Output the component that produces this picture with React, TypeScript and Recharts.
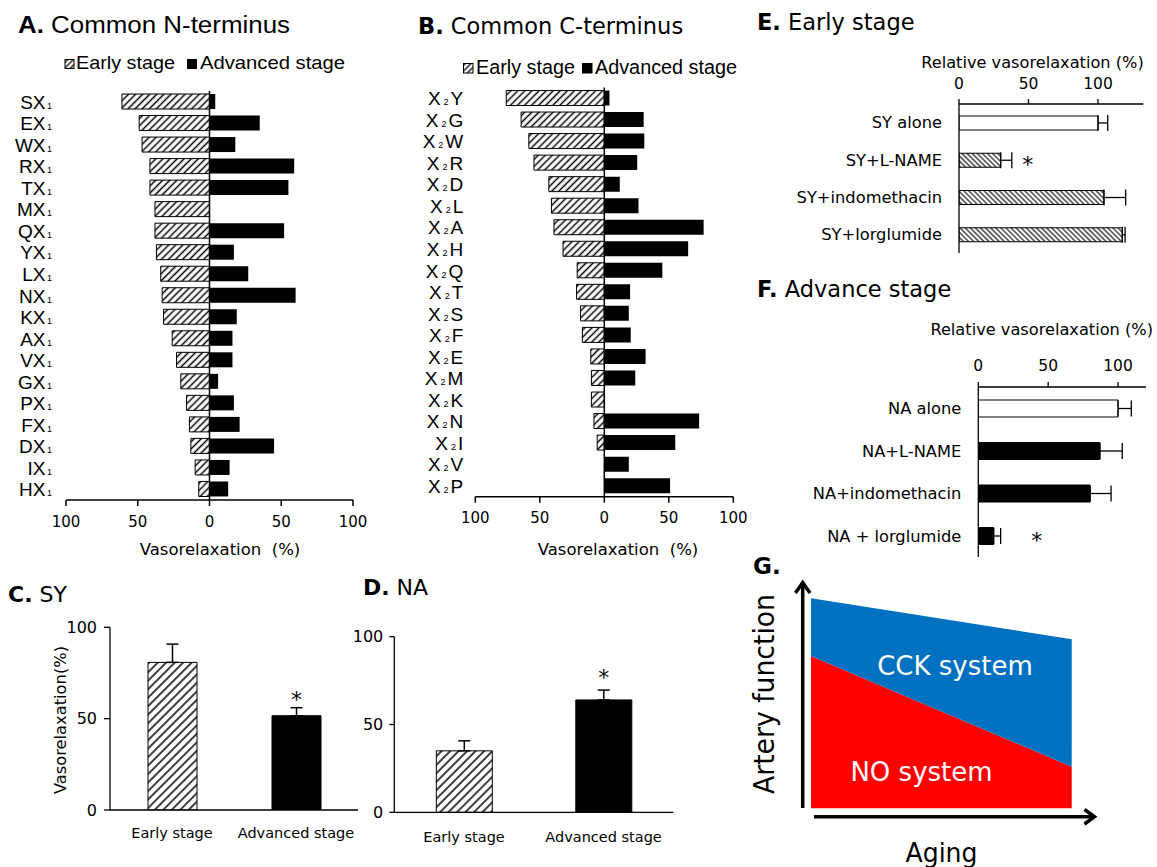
import React from 'react';
import { BarChart, Bar, XAxis, YAxis, ReferenceLine, ErrorBar, Cell, LabelList, AreaChart, Area } from 'recharts';

// ---------- Panel A: common N-terminus ----------
const nTermCategories = ['SX1', 'EX1', 'WX1', 'RX1', 'TX1', 'MX1', 'QX1', 'YX1', 'LX1', 'NX1', 'KX1', 'AX1', 'VX1', 'GX1', 'PX1', 'FX1', 'DX1', 'IX1', 'HX1'];
const nTermEarly = [61, 49, 47, 41.5, 41.5, 38, 38, 37, 34, 33, 32, 26, 23, 20, 16, 14, 13, 10, 7.5];
const nTermAdvanced = [4, 35, 18, 59, 55, 0, 52, 17, 27, 60, 19, 16, 16, 6, 17, 21, 45, 14, 13];

// ---------- Panel B: common C-terminus ----------
const cTermCategories = ['X2Y', 'X2G', 'X2W', 'X2R', 'X2D', 'X2L', 'X2A', 'X2H', 'X2Q', 'X2T', 'X2S', 'X2F', 'X2E', 'X2M', 'X2K', 'X2N', 'X2I', 'X2V', 'X2P'];
const cTermEarly = [76, 64.5, 58.5, 54.5, 43, 41, 39, 32, 21, 21.5, 18.5, 17, 10.5, 10, 10, 8, 5.5, 0, 0];
const cTermAdvanced = [4, 30.5, 31, 25.5, 12, 26.5, 77, 65, 45, 20, 19, 20.5, 32, 24, 0, 73.5, 55, 19, 51];
const divergingTicks = [-100, -50, 0, 50, 100];

// ---------- Panels C / D ----------
const stageCategories = ['Early stage', 'Advanced stage'];
const syValues = [80.8, 51.6];
const syErrors = [10, 4.4];
const sySignificant = [false, true];
const naValues = [35, 64];
const naErrors = [5.7, 5.6];
const naSignificant = [false, true];
const stageTicks = [0, 50, 100];

// ---------- Panels E / F ----------
const earlyTreatments = ['SY alone', 'SY+L-NAME', 'SY+indomethacin', 'SY+lorglumide'];
const earlyRelative = [100, 30, 104.3, 117.5];
const earlyRelErrors = [7, 8, 15.6, 2];
const earlySignificant = [false, true, false, false];
const advTreatments = ['NA alone', 'NA+L-NAME', 'NA+indomethacin', 'NA + lorglumide'];
const advRelative = [100, 87, 80, 11];
const advRelErrors = [9.5, 16, 15, 5];
const advSignificant = [false, false, false, true];
const relTicks = [0, 50, 100];

// ---------- Panel G ----------
const agingPoints = [0, 1];
const noSystem = [72.5, 19.8];
const cckSystem = [27.5, 60.7];

const SANS = "'DejaVu Sans', Verdana, sans-serif";
const ARIAL = "'Liberation Sans', Arial, sans-serif";

const NTick = (props: any) => {
  const { x, y, payload } = props;
  const s = String(payload.value);
  return (
    <text x={x} y={y + 7} textAnchor="end" fontFamily={ARIAL} fontSize={19} fill="#000">
      <tspan>{s.slice(0, -1)}</tspan>
      <tspan fontSize={9} dx={1.5}>{s.slice(-1)}</tspan>
    </text>
  );
};

const CTick = (props: any) => {
  const { x, y, payload } = props;
  const s = String(payload.value);
  return (
    <text x={x} y={y + 7} textAnchor="end" fontFamily={ARIAL} fontSize={19} fill="#000">
      <tspan>{s[0]}</tspan>
      <tspan fontSize={9} dx={3}>{s[1]}</tspan>
      <tspan dx={2}>{s.slice(2)}</tspan>
    </text>
  );
};

function Diverging(p: any) {
  const data = p.cats.map((c: string, i: number) => ({ cat: c, early: -p.early[i], adv: p.adv[i] }));
  return (
    <div style={{ position: 'absolute', left: p.left, top: 0 }}>
      <BarChart width={p.width} height={560} data={data} layout="vertical" margin={p.margin} stackOffset="sign" barSize={15}>
        <XAxis type="number" domain={[-100, 100]} ticks={divergingTicks} allowDataOverflow interval={0}
          tickFormatter={(v: number) => String(Math.abs(v))}
          axisLine={{ stroke: '#000', strokeWidth: 1.5 }} tickLine={{ stroke: '#000', strokeWidth: 1.5 }}
          tickSize={6} tickMargin={10} height={40}
          tick={{ fontSize: 15, fontFamily: SANS, fill: '#000' }} />
        <YAxis type="category" dataKey="cat" width={p.yWidth} axisLine={false} tickLine={false} tickSize={0}
          tickMargin={p.tickMargin} interval={0} tick={p.tick} />
        <Bar dataKey="early" stackId="s" fill="url(#hatchA)" stroke="#000" strokeWidth={1} isAnimationActive={false} />
        <Bar dataKey="adv" stackId="s" fill="#000" isAnimationActive={false} />
        <ReferenceLine x={0} stroke="#000" strokeWidth={1.5} />
      </BarChart>
    </div>
  );
}

function StageChart(p: any) {
  const data = stageCategories.map((s, i) => ({ stage: s, v: p.values[i], err: [0, p.errors[i]] }));
  const star = (lp: any) => {
    const { x, y, width, height, index } = lp;
    if (!p.sig[index]) return null;
    const perUnit = height / p.values[index];
    const top = y - p.errors[index] * perUnit;
    return (
      <text x={x + width / 2} y={top - p.starGap} textAnchor="middle" fontFamily={SANS} fontSize={22} fill="#000">*</text>
    );
  };
  return (
    <div style={{ position: 'absolute', left: p.left, top: 570 }}>
      <BarChart width={p.width} height={297} data={data} margin={p.margin} barSize={p.barSize}>
        <XAxis dataKey="stage" type="category" interval={0} axisLine={{ stroke: '#000', strokeWidth: 1.3 }}
          tickLine={false} tickSize={0} tickMargin={p.xTickMargin} height={40}
          tick={{ fontSize: 14.5, fontFamily: SANS, fill: '#000' }} />
        <YAxis type="number" domain={[0, 100]} ticks={stageTicks} allowDataOverflow width={50}
          axisLine={{ stroke: '#000', strokeWidth: 1.3 }} tickLine={{ stroke: '#000', strokeWidth: 1.3 }}
          tickSize={p.yTickSize} tickMargin={p.yTickMargin}
          tick={{ fontSize: 16, fontFamily: SANS, fill: '#000' }} />
        <Bar dataKey="v" stroke="#000" strokeWidth={1} isAnimationActive={false}>
          {data.map((d, i) => <Cell key={d.stage} fill={i === 0 ? 'url(#hatchC)' : '#000'} />)}
          <ErrorBar dataKey="err" width={6} stroke="#000" strokeWidth={1.5} direction="y" />
          <LabelList dataKey="v" content={star} />
        </Bar>
      </BarChart>
    </div>
  );
}

function RelativeChart(p: any) {
  const data = p.cats.map((c: string, i: number) => ({ treat: c, v: p.values[i], err: [0, p.errors[i]] }));
  const star = (lp: any) => {
    const { x, y, width, height, index } = lp;
    if (!p.sig[index]) return null;
    const perUnit = width / p.values[index];
    const end = x + width + p.errors[index] * perUnit;
    return (
      <text x={end + p.starGap} y={y + height / 2 + 12} textAnchor="middle" fontFamily={SANS} fontSize={22} fill="#000">*</text>
    );
  };
  return (
    <div style={{ position: 'absolute', left: 750, top: p.top }}>
      <BarChart width={407} height={p.height} data={data} layout="vertical" margin={p.margin} barSize={p.barSize}>
        <XAxis type="number" orientation="top" domain={[0, p.max]} ticks={relTicks} allowDataOverflow interval={0}
          axisLine={{ stroke: '#000', strokeWidth: 1.3 }} tickLine={{ stroke: '#000', strokeWidth: 1.3 }}
          tickSize={5} tickMargin={p.xTickMargin} height={30}
          tick={{ fontSize: 15.5, fontFamily: SANS, fill: '#000' }} />
        <YAxis type="category" dataKey="treat" width={200} interval={0}
          axisLine={{ stroke: '#000', strokeWidth: 1.3 }} tickLine={false} tickSize={0} tickMargin={17}
          tick={{ fontSize: 16.3, fontFamily: SANS, fill: '#000' }} />
        <Bar dataKey="v" stroke="#000" strokeWidth={1} isAnimationActive={false}>
          {data.map((d: any, i: number) => <Cell key={d.treat} fill={i === 0 ? '#fff' : p.fill} />)}
          <ErrorBar dataKey="err" width={8} stroke="#000" strokeWidth={1.3} direction="x" />
          <LabelList dataKey="v" content={star} />
        </Bar>
      </BarChart>
    </div>
  );
}

function AgingChart() {
  const data = agingPoints.map((t, i) => ({ t, no: noSystem[i], cck: cckSystem[i] }));
  return (
    <div style={{ position: 'absolute', left: 740, top: 560 }}>
      <AreaChart width={417} height={307} data={data} margin={{ top: 38.3, right: 85.3, bottom: 58.7, left: 71 }}>
        <XAxis type="number" dataKey="t" domain={[0, 1]} hide />
        <YAxis type="number" domain={[0, 100]} hide />
        <Area type="linear" dataKey="no" stackId="g" fill="#FF0000" fillOpacity={1} stroke="none" dot={false} activeDot={false} isAnimationActive={false} />
        <Area type="linear" dataKey="cck" stackId="g" fill="#0070C0" fillOpacity={1} stroke="none" dot={false} activeDot={false} isAnimationActive={false} />
      </AreaChart>
    </div>
  );
}

export default function App() {
  return (
    <div style={{ position: 'absolute', left: 0, top: 0, width: 1157, height: 867, background: '#fff', overflow: 'hidden' }}>
      <Diverging cats={nTermCategories} early={nTermEarly} adv={nTermAdvanced} left={0} width={380}
        margin={{ top: 91, right: 27, bottom: 20, left: 10 }} yWidth={56} tickMargin={14}
        tick={(pr: any) => <NTick {...pr} />} />
      <Diverging cats={cTermCategories} early={cTermEarly} adv={cTermAdvanced} left={400} width={360}
        margin={{ top: 87.5, right: 26.7, bottom: 23.3, left: 15.3 }} yWidth={60} tickMargin={12}
        tick={(pr: any) => <CTick {...pr} />} />
      <StageChart values={syValues} errors={syErrors} sig={sySignificant} left={0} width={380}
        margin={{ top: 57.3, right: 22, bottom: 17, left: 60 }} barSize={49}
        xTickMargin={18} yTickSize={6} yTickMargin={7} starGap={1} />
      <StageChart values={naValues} errors={naErrors} sig={naSignificant} left={330} width={370}
        margin={{ top: 66.7, right: 26.7, bottom: 14.7, left: 14.3 }} barSize={56}
        xTickMargin={19} yTickSize={5} yTickMargin={6} starGap={5} />
      <RelativeChart cats={earlyTreatments} values={earlyRelative} errors={earlyRelErrors} sig={earlySignificant}
        top={0} height={270} margin={{ top: 74, right: 13.7, bottom: 17, left: 9 }} max={132.6}
        barSize={14} xTickMargin={10} starGap={16} fill="url(#hatchE)" />
      <RelativeChart cats={advTreatments} values={advRelative} errors={advRelErrors} sig={advSignificant}
        top={270} height={300} margin={{ top: 87, right: 11, bottom: 13, left: 28.3 }} max={120}
        barSize={17} xTickMargin={11} starGap={36} fill="#000" />
      <AgingChart />

      <svg width={1157} height={867} style={{ position: 'absolute', left: 0, top: 0, pointerEvents: 'none' }}>
        <defs>
          <pattern id="hatchA" patternUnits="userSpaceOnUse" width="5" height="5" patternTransform="rotate(45)">
            <rect width="5" height="5" fill="#fff" />
            <line x1="2.5" y1="0" x2="2.5" y2="5" stroke="#000" strokeWidth="1.5" />
          </pattern>
          <pattern id="hatchC" patternUnits="userSpaceOnUse" width="6" height="6" patternTransform="rotate(45)">
            <rect width="6" height="6" fill="#fff" />
            <line x1="3" y1="0" x2="3" y2="6" stroke="#000" strokeWidth="1.5" />
          </pattern>
          <pattern id="hatchE" patternUnits="userSpaceOnUse" width="3.6" height="3.6" patternTransform="rotate(-45)">
            <rect width="3.6" height="3.6" fill="#fff" />
            <line x1="1.8" y1="0" x2="1.8" y2="3.6" stroke="#000" strokeWidth="1.1" />
          </pattern>
          <pattern id="hatchL" patternUnits="userSpaceOnUse" width="4" height="4" patternTransform="rotate(45)">
            <rect width="4" height="4" fill="#fff" />
            <line x1="2" y1="0" x2="2" y2="4" stroke="#000" strokeWidth="1.3" />
          </pattern>
        </defs>

        {/* Panel A texts */}
        <text x={18} y={33} fontFamily={ARIAL} fontSize={23} fill="#000" textLength={272} lengthAdjust="spacingAndGlyphs">
          <tspan fontWeight="bold">A.</tspan>{' Common N-terminus'}
        </text>
        <rect x={65} y={59.5} width={9} height={9} fill="url(#hatchL)" stroke="#000" strokeWidth={1} />
        <text x={76} y={69} fontFamily={ARIAL} fontSize={18.5} fill="#000" textLength={99} lengthAdjust="spacingAndGlyphs">Early stage</text>
        <rect x={187} y={59} width={10} height={10} fill="#000" />
        <text x={200} y={69} fontFamily={ARIAL} fontSize={18.5} fill="#000" textLength={145} lengthAdjust="spacingAndGlyphs">Advanced stage</text>
        <text x={220} y={555} textAnchor="middle" fontFamily={SANS} fontSize={16.5} fill="#000">{'Vasorelaxation\u00A0\u00A0(%)'}</text>

        {/* Panel B texts */}
        <text x={418} y={34} fontFamily={SANS} fontSize={22.5} fill="#000">
          <tspan fontWeight="bold">B.</tspan>{' Common C-terminus'}
        </text>
        <rect x={463.5} y={63.5} width={9.5} height={9.5} fill="url(#hatchL)" stroke="#000" strokeWidth={1} />
        <text x={476} y={74} fontFamily={ARIAL} fontSize={19.5} fill="#000" textLength={99} lengthAdjust="spacingAndGlyphs">Early stage</text>
        <rect x={582} y={63} width={10.5} height={10.5} fill="#000" />
        <text x={595} y={74} fontFamily={ARIAL} fontSize={19.5} fill="#000" textLength={142} lengthAdjust="spacingAndGlyphs">Advanced stage</text>
        <text x={618} y={555} textAnchor="middle" fontFamily={SANS} fontSize={16.5} fill="#000">{'Vasorelaxation\u00A0\u00A0(%)'}</text>

        {/* Panel C / D texts */}
        <text x={8} y={601.7} fontFamily={SANS} fontSize={22} fill="#000">
          <tspan fontWeight="bold">C.</tspan>{' SY'}
        </text>
        <text transform="translate(66,720) rotate(-90)" textAnchor="middle" fontFamily={SANS} fontSize={16.3} fill="#000">Vasorelaxation(%)</text>
        <text x={363} y={595} fontFamily={SANS} fontSize={22} fill="#000">
          <tspan fontWeight="bold">D.</tspan>{' NA'}
        </text>

        {/* Panel E / F texts */}
        <text x={757} y={30} fontFamily={SANS} fontSize={22.5} fill="#000">
          <tspan fontWeight="bold">E.</tspan>{' Early stage'}
        </text>
        <text x={1032.5} y={68} textAnchor="middle" fontFamily={SANS} fontSize={16.2} fill="#000">Relative vasorelaxation (%)</text>
        <text x={757} y={296.7} fontFamily={SANS} fontSize={22.5} fill="#000">
          <tspan fontWeight="bold">F.</tspan>{' Advance stage'}
        </text>
        <text x={1041.7} y={335} textAnchor="middle" fontFamily={SANS} fontSize={16.2} fill="#000">Relative vasorelaxation (%)</text>

        {/* Panel G texts */}
        <text x={753} y={574} fontFamily={SANS} fontSize={23} fontWeight="bold" fill="#000">G.</text>
        <text x={955} y={675} textAnchor="middle" fontFamily={SANS} fontSize={26} fill="#fff">CCK system</text>
        <text x={921.5} y={780.7} textAnchor="middle" fontFamily={SANS} fontSize={26} fill="#fff">NO system</text>
        <text transform="translate(774,694) rotate(-90)" textAnchor="middle" fontFamily={SANS} fontSize={29} fill="#000" textLength={200} lengthAdjust="spacingAndGlyphs">Artery function</text>
        <text x={941.5} y={861.7} textAnchor="middle" fontFamily={SANS} fontSize={26} fill="#000" textLength={72} lengthAdjust="spacingAndGlyphs">Aging</text>
        <path d="M802.7 808 L802.7 584" stroke="#000" strokeWidth={3.5} fill="none" />
        <path d="M795.5 593 L802.7 582.5 L810 593" stroke="#000" strokeWidth={3.5} fill="none" />
        <path d="M814 816.7 L1093 816.7" stroke="#000" strokeWidth={3.5} fill="none" />
        <path d="M1084.5 809.5 L1094.5 816.7 L1084.5 824" stroke="#000" strokeWidth={3.5} fill="none" />
      </svg>
    </div>
  );
}
